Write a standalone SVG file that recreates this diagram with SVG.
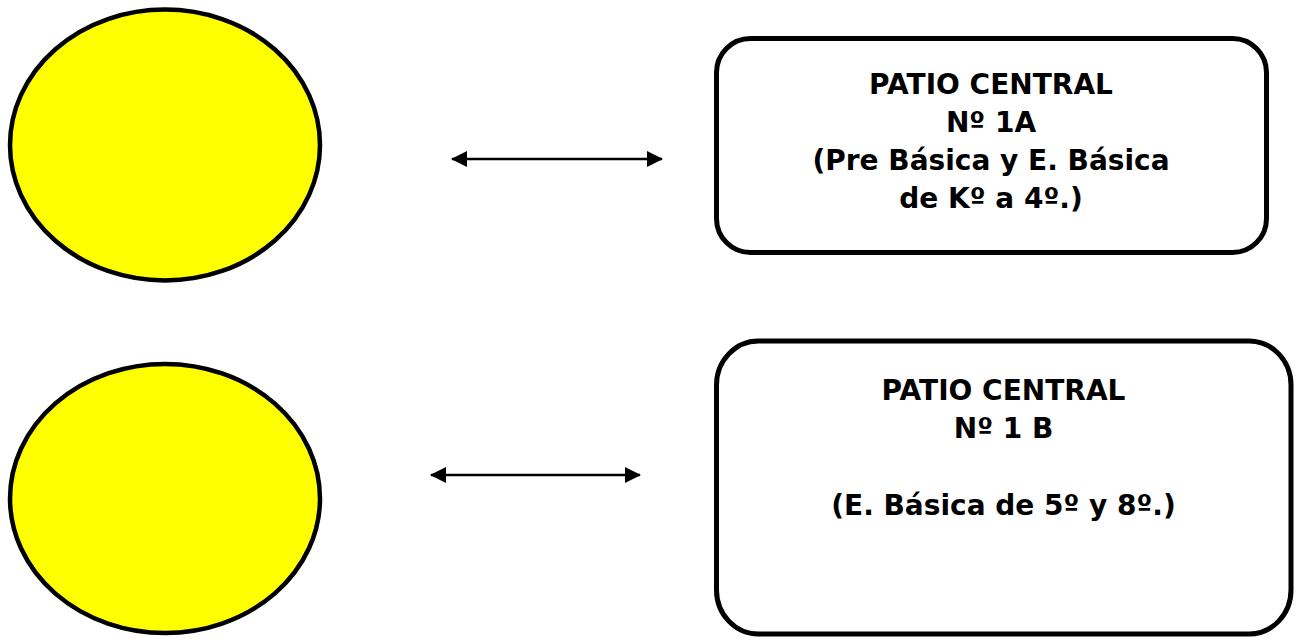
<svg xmlns="http://www.w3.org/2000/svg" width="1298" height="639" viewBox="0 0 1298 639">
  <style>
    .circle { fill: #FFFF00; stroke: #000; stroke-width: 4.5; }
    .box { fill: #FFFFFF; stroke: #000; stroke-width: 5; }
    .label { font-family: "DejaVu Sans", "Liberation Sans", sans-serif; font-weight: bold; font-size: 28px; fill: #000; text-anchor: middle; }
    .conn { stroke: #000; stroke-width: 2.5; fill: none; marker-start: url(#ah); marker-end: url(#ah); }
  </style>
  <defs>
    <marker id="ah" viewBox="0 0 16 16" refX="15" refY="8" markerWidth="16" markerHeight="16" markerUnits="userSpaceOnUse" orient="auto-start-reverse">
      <path d="M0,0 L16,8 L0,16 Z" fill="#000"/>
    </marker>
  </defs>
  <rect width="1298" height="639" fill="#FFFFFF"/>

  <g id="node-circle-1">
    <ellipse class="circle" cx="165" cy="145" rx="155" ry="135.5"/>
  </g>
  <g id="node-circle-2">
    <ellipse class="circle" cx="165" cy="498.5" rx="155" ry="134.5"/>
  </g>

  <g id="node-patio-1a">
    <rect class="box" x="716.5" y="38.5" width="550" height="214" rx="34" ry="34"/>
    <text class="label" x="991" y="94">PATIO CENTRAL</text>
    <text class="label" x="991" y="132">Nº 1A</text>
    <text class="label" x="991" y="170">(Pre Básica y E. Básica</text>
    <text class="label" x="991" y="208">de Kº a 4º.)</text>
  </g>

  <g id="node-patio-1b">
    <rect class="box" x="716.5" y="341" width="574.5" height="293" rx="42" ry="44"/>
    <text class="label" x="1003.5" y="400">PATIO CENTRAL</text>
    <text class="label" x="1003.5" y="438">Nº 1 B</text>
    <text class="label" x="1003.5" y="515">(E. Básica de 5º y 8º.)</text>
  </g>

  <g id="connectors">
    <line class="conn" x1="452" y1="159" x2="662" y2="159"/>
    <line class="conn" x1="431" y1="475" x2="640" y2="475"/>
  </g>
</svg>
